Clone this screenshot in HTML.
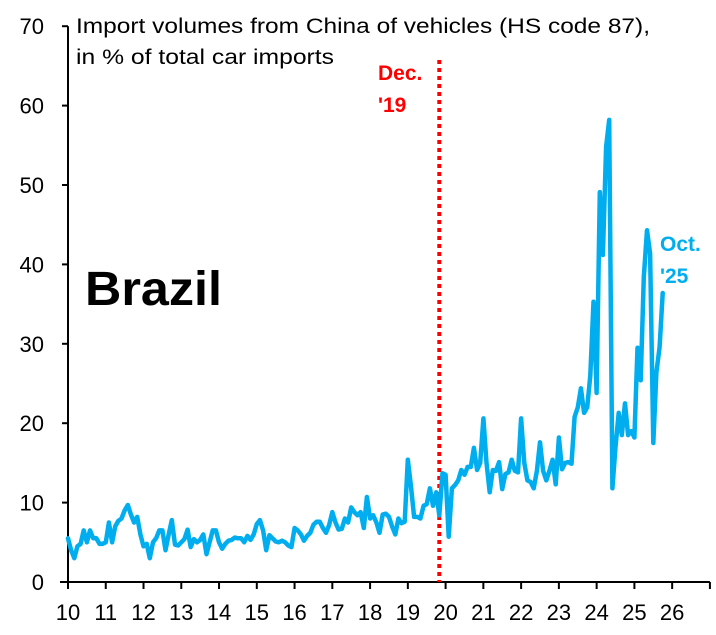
<!DOCTYPE html>
<html><head><meta charset="utf-8"><style>
html,body{margin:0;padding:0;background:#fff;}
svg{display:block;font-family:"Liberation Sans",Arial,sans-serif;}
</style></head><body>
<svg id="chart" width="716" height="635" viewBox="0 0 716 635" xmlns="http://www.w3.org/2000/svg">
<g id="axes"></g>
<g id="marks"></g>
<text x="76" y="33" font-size="21" textLength="574" lengthAdjust="spacingAndGlyphs" fill="#000">Import volumes from China of vehicles (HS code 87),</text>
<text x="76" y="64" font-size="21" textLength="258" lengthAdjust="spacingAndGlyphs" fill="#000">in % of total car imports</text>
<text x="85" y="305" font-size="48" font-weight="bold" textLength="137" lengthAdjust="spacingAndGlyphs" fill="#000">Brazil</text>
<text x="378" y="80" font-size="21" font-weight="bold" fill="#ff0000">Dec.</text>
<text x="378" y="112" font-size="21" font-weight="bold" fill="#ff0000">'19</text>
<text x="660" y="251" font-size="21" font-weight="bold" fill="#00aeef">Oct.</text>
<text x="660" y="283" font-size="21" font-weight="bold" fill="#00aeef">'25</text>
</svg>
<script>
const yTicks = [0,10,20,30,40,50,60,70];
const xYears = [2010,2011,2012,2013,2014,2015,2016,2017,2018,2019,2020,2021,2022,2023,2024,2025,2026,2027];
const xLabels = ["10","11","12","13","14","15","16","17","18","19","20","21","22","23","24","25","26",""];
const startYear = 2010;
const markerDate = 2019.833;
const shareValues = [
5.5,4,3,4.5,4.8,6.5,5,6.5,5.5,5.5,4.8,4.8,
5,7.5,5,7,7.7,8,9,9.7,8.5,7.5,8.2,6,
4.5,4.8,3,5,5.5,6.5,6.5,4,6,7.8,4.7,4.6,
5,5.4,6.6,4.4,5.4,5,5.3,6,3.5,5,6.5,6.5,
5,4.2,4.8,5.2,5.3,5.6,5.5,5.5,5,5.8,5.3,6,
7.3,7.8,6.5,4,5.9,5.5,5.1,5,5.2,5,4.6,4.4,
6.8,6.5,6,5.2,5.8,6.2,7.2,7.6,7.6,6.8,6.2,7.2,
8.8,7.5,6.6,6.7,8,7.5,9.4,8.8,8.4,8.8,6.8,10.7,
8,8.4,7.5,6.2,8.5,8.6,8.2,7,6,8,7.4,7.6,
15.4,12,8.2,8.2,8,9.6,9.8,11.8,9.6,11.3,8.4,13.7,
13.5,5.7,11.8,12.2,12.8,14.1,13.5,14.5,14.5,16.9,14.1,15,
20.6,15,11.3,14.1,14,15.1,11.7,13.6,13.8,15.4,14,13.8,
20.6,15,12.8,12.6,11.8,14,17.6,14,12.8,14,15.4,12.3,
18.2,14.2,15,15.1,14.9,20.8,22,24.4,21.3,22,26,35.3,
23.8,49.1,41.2,54.8,58.2,11.8,17,21.3,18.5,22.5,18.5,19,
18.2,29.5,25.4,38.4,44.3,41.4,17.5,26.4,29.6,36.4
];
const X0=68, PXY=37.76, Y0=582, PXV=7.94;
function xScale(t){return X0+(t-startYear)*PXY;}
function yScale(v){return Y0-v*PXV;}
const NS="http://www.w3.org/2000/svg";
const axes=document.getElementById('axes'), marks=document.getElementById('marks');
function mk(tag,attrs,parent){const e=document.createElementNS(NS,tag);for(const k in attrs)e.setAttribute(k,attrs[k]);parent.appendChild(e);return e;}
const yAxis=mk('line',{x1:xScale(2010),x2:xScale(2010),y1:yScale(70),y2:yScale(0),stroke:'#000','stroke-width':2},axes);


yTicks.forEach(v=>{
  const t=mk('line',{x1:xScale(2010)-6,x2:xScale(2010),y1:yScale(v),y2:yScale(v),stroke:'#000','stroke-width':2},axes);
  
  
  const l=mk('text',{x:44,y:yScale(v)+8,'font-size':22,'text-anchor':'end',fill:'#000'},axes);
  l.textContent=v;
  
  
});
const xAxis=mk('line',{x1:xScale(2010)-8,x2:xScale(2027),y1:yScale(0),y2:yScale(0),stroke:'#000','stroke-width':2},axes);


xYears.forEach((yr,i)=>{
  const t=mk('line',{x1:xScale(yr),x2:xScale(yr),y1:yScale(0),y2:yScale(0)+7,stroke:'#000','stroke-width':2},axes);
  
  
  if(xLabels[i]){
    const l=mk('text',{x:xScale(yr),y:620,'font-size':22,'text-anchor':'middle',fill:'#000'},axes);
    l.textContent=xLabels[i];
    
    
  }
});
const ml=mk('line',{x1:xScale(markerDate),x2:xScale(markerDate),y1:60,y2:yScale(0),stroke:'#ff0000','stroke-width':4,'stroke-dasharray':'4 4'},marks);


const pts=shareValues.map((v,i)=>xScale(startYear+i/12).toFixed(1)+','+yScale(v).toFixed(1)).join(' ');
const line=mk('polyline',{points:pts,fill:'none',stroke:'#00aeef','stroke-width':4.5,'stroke-linejoin':'round','stroke-linecap':'round'},marks);


</script>
</body></html>
